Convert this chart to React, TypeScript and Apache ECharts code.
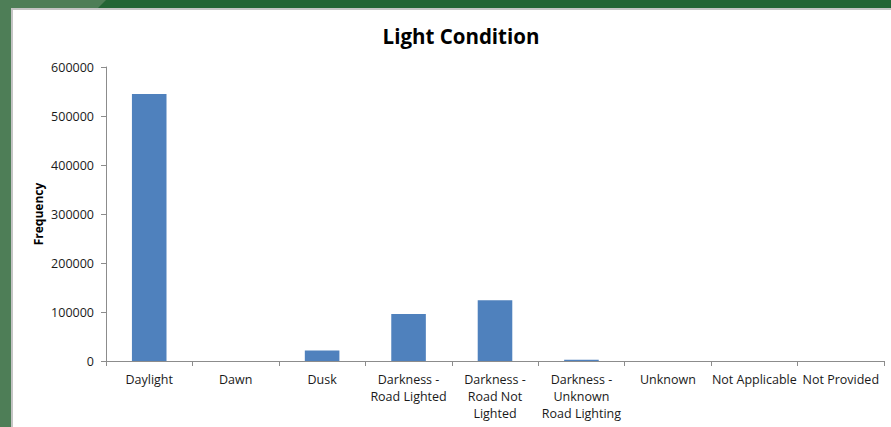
import React, { useEffect, useRef } from "react";
import * as echarts from "echarts";

const categories = [
  "Daylight",
  "Dawn",
  "Dusk",
  "Darkness -\nRoad Lighted",
  "Darkness -\nRoad Not\nLighted",
  "Darkness -\nUnknown\nRoad Lighting",
  "Unknown",
  "Not Applicable",
  "Not Provided",
];
const frequency = [545000, 0, 21500, 96000, 124000, 2500, 0, 0, 0];
const yMin = 0;
const yMax = 600000;
const yInterval = 100000;

const FONT = "'Open Sans', sans-serif";

export default function App() {
  const ref = useRef<HTMLDivElement>(null);
  useEffect(() => {
    if (!ref.current) return;
    const chart = echarts.init(ref.current, null, { renderer: "svg" });
    chart.setOption({
      animation: false,
      backgroundColor: "#ffffff",
      title: {
        text: "Light Condition",
        left: 456,
        textAlign: "center",
        top: 20,
        textStyle: { fontFamily: FONT, fontWeight: "bold", fontSize: 20.5, color: "#000000" },
      },
      graphic: [
        { type: "rect", shape: { x: 0, y: 0, width: 891, height: 9 }, style: { fill: "#236535" }, silent: true },
        { type: "polygon", shape: { points: [[0, 0], [106, 0], [97, 9], [0, 9]] }, style: { fill: "#4e7e57" }, silent: true },
        { type: "rect", shape: { x: 0, y: 0, width: 12, height: 427 }, style: { fill: "#4e7e57" }, silent: true },
        { type: "rect", shape: { x: 12, y: 8, width: 879, height: 2 }, style: { fill: "#c4c4c4" }, silent: true },
        { type: "rect", shape: { x: 11, y: 8, width: 2, height: 419 }, style: { fill: "#c4c4c4" }, silent: true },
      ],
      grid: {
        left: 106,
        right: 7,
        top: 67,
        bottom: 66,
        containLabel: false,
        outerBoundsMode: "none",
      },
      xAxis: {
        type: "category",
        data: categories,
        boundaryGap: true,
        axisLine: { lineStyle: { color: "#8c8c8c", width: 1 } },
        axisTick: { show: true, length: 5, alignWithLabel: false, lineStyle: { color: "#8c8c8c" } },
        axisLabel: {
          interval: 0,
          margin: 10,
          fontFamily: FONT,
          fontSize: 12.5,
          lineHeight: 17,
          color: "#1a1a1a",
        },
      },
      yAxis: {
        type: "value",
        min: yMin,
        max: yMax,
        interval: yInterval,
        name: "Frequency",
        nameLocation: "middle",
        nameGap: 62,
        nameMoveOverlap: false,
        nameRotate: 90,
        nameTextStyle: { fontFamily: FONT, fontWeight: "bold", fontSize: 12, color: "#000000" },
        axisLine: { show: true, lineStyle: { color: "#8c8c8c", width: 1 } },
        axisTick: { show: true, length: 5, lineStyle: { color: "#8c8c8c" } },
        splitLine: { show: false },
        axisLabel: {
          margin: 12,
          fontFamily: FONT,
          fontSize: 12.5,
          color: "#1a1a1a",
          formatter: (v: number) => String(v),
        },
      },
      series: [
        {
          type: "bar",
          data: frequency,
          barWidth: "40%",
          itemStyle: { color: "#4f81bd" },
        },
      ],
    });
    return () => chart.dispose();
  }, []);
  return (
    <div
      ref={ref}
      style={{ position: "fixed", left: 0, top: 0, width: 891, height: 427 }}
    />
  );
}
